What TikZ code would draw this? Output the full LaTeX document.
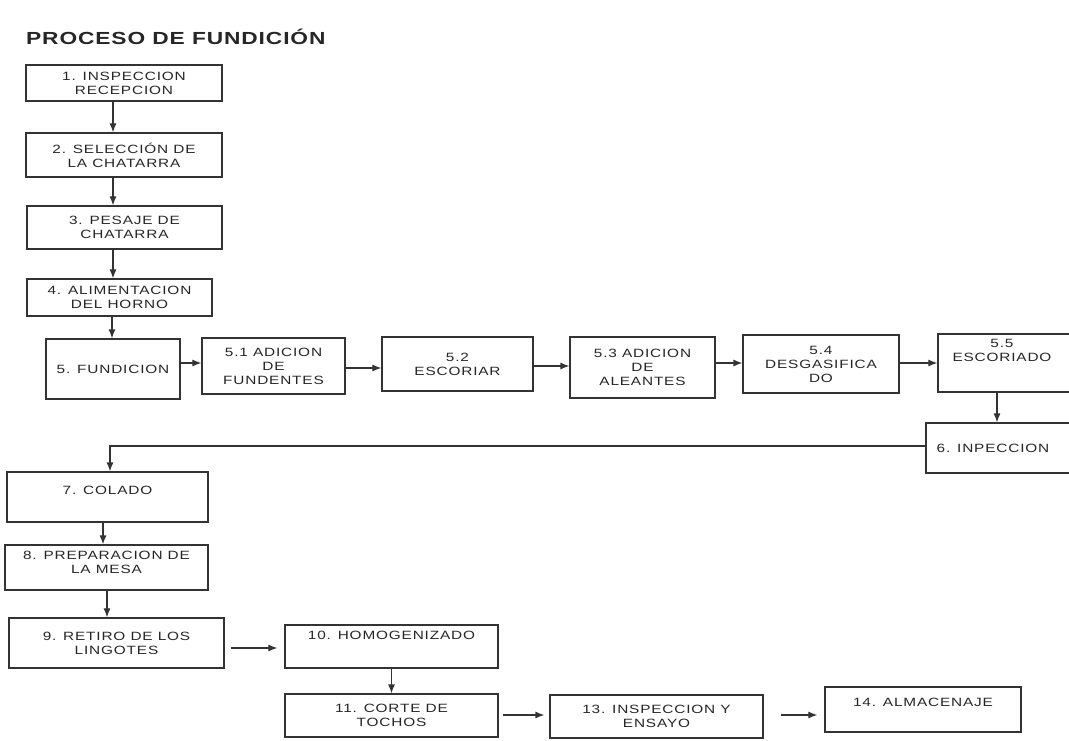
\documentclass[tikz,border=0pt]{standalone}
\usepackage{fontspec}
\usetikzlibrary{arrows.meta}
\newfontfamily\boxfont[FakeStretch=1.28,LetterSpace=7]{Liberation Sans}
\newfontfamily\titlefont[FakeStretch=1.3,LetterSpace=5]{Liberation Sans}

\begin{document}
\begin{tikzpicture}[
  x={(1pt,0pt)},
  y={(0pt,-1pt)},
  box/.style={draw=black!80, line width=1.2pt, align=center, inner sep=0pt,
    text=black!85, font=\boxfont\fontsize{12}{14}\selectfont},
  sz/.style 2 args={minimum width=#1pt, minimum height=#2pt},
  txt/.style={align=center, inner sep=0pt, text=black!85,
    font=\boxfont\fontsize{12}{14}\selectfont},
  arr/.style={draw=black!80, line width=1.2pt, -{Latex[length=9pt,width=7pt]}}
]
\useasboundingbox (0,0) rectangle (1069,741);
\clip (0,0) rectangle (1069,741);

\node[anchor=base west, inner sep=0pt, text=black!85,
  font=\titlefont\bfseries\fontsize{17.5}{20}\selectfont] (title) at (26,45)
  {PROCESO DE FUNDICIÓN};

% column
\node[box, sz={196}{36}] (n1) at (124,83) {1. INSPECCION\\RECEPCION};
\node[box, sz={196}{44}] (n2) at (124,155) {2. SELECCIÓN DE\\LA CHATARRA};
\node[box, sz={195}{43}] (n3) at (124.5,227.5) {3. PESAJE DE\\CHATARRA};
\node[box, sz={185}{37}] (n4) at (119.5,297.5) {4. ALIMENTACION\\DEL HORNO};

% row 5
\node[box, sz={134}{60}] (n5) at (113,369) {5. FUNDICION};
\node[box, sz={143}{56}] (n51) at (273.5,366) {5.1 ADICION\\DE\\FUNDENTES};
\node[box, sz={151}{54}] (n52) at (457.5,364) {5.2\\ESCORIAR};
\node[box, sz={145}{61}] (n53) at (642.5,367.5) {5.3 ADICION\\DE\\ALEANTES};
\node[box, sz={156}{58}] (n54) at (821,364) {5.4\\DESGASIFICA\\DO};
\node[box, sz={147}{58},
  label={[txt, xshift=-9.5pt, yshift=12.5pt]center:5.5\\ESCORIADO}] (n55)
  at (1011.5,363) {};
\node[box, sz={159}{50},
  label={[txt, xshift=-12.5pt]center:6. INPECCION}] (n6) at (1005.5,448) {};

% lower part
\node[box, sz={201}{50},
  label={[txt, yshift=7pt]center:7. COLADO}] (n7) at (107.5,497) {};
\node[box, sz={203}{45},
  label={[txt, yshift=5.5pt]center:8. PREPARACION DE\\LA MESA}] (n8)
  at (106.5,567.5) {};
\node[box, sz={215}{50}] (n9) at (116.5,643) {9. RETIRO DE LOS\\LINGOTES};
\node[box, sz={213}{43},
  label={[txt, yshift=11.5pt]center:10. HOMOGENIZADO}] (n10) at (391.5,646.5) {};
\node[box, sz={213}{43}] (n11) at (391.5,715.5) {11. CORTE DE\\TOCHOS};
\node[box, sz={213}{43}] (n13) at (656.5,716.5) {13. INSPECCION Y\\ENSAYO};
\node[box, sz={196}{45},
  label={[txt, yshift=7.5pt]center:14. ALMACENAJE}] (n14) at (923,709.5) {};

\draw[arr] (n1.south -| 113,0) -- (n2.north -| 113,0);
\draw[arr] (n2.south -| 113,0) -- (n3.north -| 113,0);
\draw[arr] (n3.south -| 113,0) -- (n4.north -| 113,0);
\draw[arr] (n4.south -| 112,0) -- (n5.north -| 112,0);

\foreach \a/\b/\y in {n5/n51/363, n51/n52/368, n52/n53/366, n53/n54/363, n54/n55/363}
  \draw[arr] (\a.east |- 0,\y) -- (\b.west |- 0,\y);

\draw[arr] (n55.south -| 997,0) -- (n6.north -| 997,0);
\draw[arr] (n6.west |- 0,446) -| (n7.north -| 110,0);
\draw[arr] (n7.south -| 103,0) -- (n8.north -| 103,0);
\draw[arr] (n8.south -| 107,0) -- (n9.north -| 107,0);
\draw[arr, shorten <=6pt, shorten >=7pt] (n9.east |- 0,648) -- (n10.west |- 0,648);
\draw[arr] (n10) -- (n11);
\draw[arr, shorten <=4pt, shorten >=5pt] (n11.east |- 0,715) -- (n13.west |- 0,715);
\draw[arr, shorten <=17pt, shorten >=7pt] (n13.east |- 0,715) -- (n14.west |- 0,715);
\end{tikzpicture}
\end{document}
